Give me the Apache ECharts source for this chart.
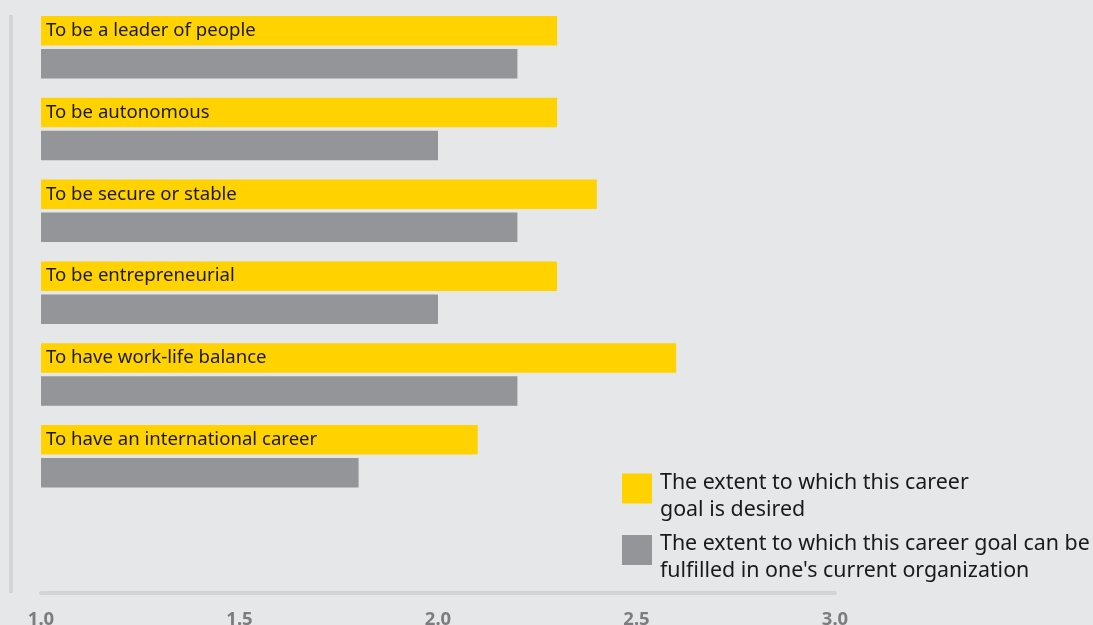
<!DOCTYPE html>
<html>
<head>
<meta charset="utf-8">
<script src="https://cdn.jsdelivr.net/npm/echarts@6/dist/echarts.min.js"></script>
<style>
  html, body { margin: 0; padding: 0; background: #e6e7e8; }
  #chart { width: 1093px; height: 625px; }
</style>
</head>
<body>
<div id="chart"></div>
<script>
// Career goals, mean ratings
const categories = [
  'To be a leader of people',
  'To be autonomous',
  'To be secure or stable',
  'To be entrepreneurial',
  'To have work-life balance',
  'To have an international career'
];
const desired = [2.3, 2.3, 2.4, 2.3, 2.6, 2.1];
const fulfilled = [2.2, 2.0, 2.2, 2.0, 2.2, 1.8];
const seriesNames = [
  'The extent to which this career\ngoal is desired',
  'The extent to which this career goal can be\nfulfilled in one\'s current organization'
];
const tickMin = 1.0, tickMax = 3.0, tickStep = 0.5;

const YELLOW = '#ffd200';
const GREY = '#939598';
const RULE = '#d3d4d6';
const FONT = '"Noto Sans", Roboto, sans-serif';

const chart = echarts.init(document.getElementById('chart'), null, { renderer: 'canvas' });

// Legend text: a short spacer line on top keeps the square level with the first line
const legendText = name => '{s| }\n' + name.split('\n').map(l => '{t|' + l + '}').join('\n');

chart.setOption({
  backgroundColor: '#e6e7e8',
  animation: false,
  grid: {
    left: 41, right: 258, top: 6.35, bottom: 127.85,
    containLabel: false,
    outerBoundsMode: 'none'
  },
  xAxis: {
    type: 'value',
    min: tickMin,
    max: tickMax,
    interval: tickStep,
    offset: 96,
    axisLine: { show: true, lineStyle: { color: RULE, width: 4 } },
    axisTick: { show: false },
    splitLine: { show: false },
    axisLabel: {
      margin: 17,
      color: '#7c7d80',
      fontFamily: FONT,
      fontWeight: 'bold',
      fontSize: 18.5,
      formatter: v => v.toFixed(1)
    }
  },
  yAxis: {
    type: 'category',
    data: categories,
    inverse: true,
    show: false
  },
  legend: {
    orient: 'vertical',
    left: 622,
    top: 456.5,
    padding: 0,
    itemWidth: 30,
    itemHeight: 30,
    itemGap: -2,
    icon: 'rect',
    selectedMode: false,
    formatter: legendText,
    textStyle: {
      fontFamily: FONT,
      color: '#1a1a1a',
      rich: {
        s: { fontSize: 10, lineHeight: 15 },
        t: { fontFamily: FONT, fontSize: 21.4, lineHeight: 27, color: '#1a1a1a', padding: [0, 0, 0, 3] }
      }
    },
    data: seriesNames
  },
  graphic: [{
    type: 'rect',
    shape: { x: 9, y: 15, width: 4, height: 578 },
    style: { fill: RULE },
    silent: true
  }],
  series: [
    {
      name: seriesNames[0],
      type: 'bar',
      data: desired,
      barWidth: 29.5,
      barGap: '12%',
      itemStyle: { color: YELLOW },
      label: {
        show: true,
        position: 'insideLeft',
        distance: 5,
        formatter: p => categories[p.dataIndex],
        fontFamily: FONT,
        fontSize: 18.6,
        color: '#1a1a1a'
      }
    },
    {
      name: seriesNames[1],
      type: 'bar',
      data: fulfilled,
      barWidth: 29.5,
      barGap: '12%',
      itemStyle: { color: GREY }
    }
  ]
});
</script>
</body>
</html>
